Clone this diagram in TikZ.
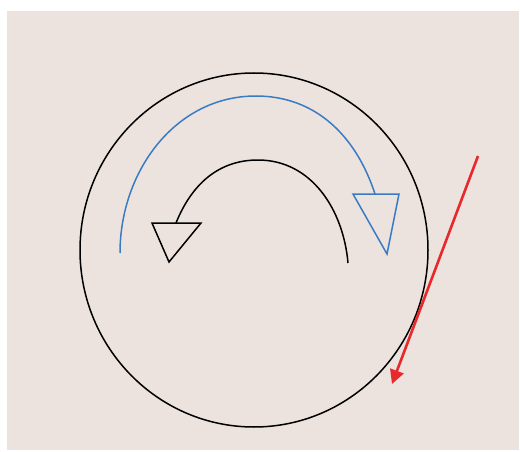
\documentclass[tikz,border=0pt]{standalone}
\usetikzlibrary{arrows.meta,shapes.geometric}
\definecolor{bg}{HTML}{ECE3DF}
\definecolor{arcblue}{HTML}{3A7CC4}
\definecolor{arrred}{HTML}{E8282A}
\begin{document}
\begin{tikzpicture}[x=1pt,y=1pt,
  thinline/.style={line width=1.5pt, line join=miter},
  headtri/.style={line width=1.5pt, line join=miter}]
\useasboundingbox (0,0) rectangle (520,451);
\fill[white] (0,0) rectangle (520,451);
\fill[bg] (7,1) rectangle (519,440);
% circle
\node[draw, thinline, ellipse, minimum width=348pt, minimum height=354pt, inner sep=0pt] (circ) at (254,201) {};
% blue arc
\coordinate (b0) at (120,198);
\coordinate (b1) at (256,355);
\coordinate (b2) at (375,257);
\draw[thinline, arcblue] (b0) to[out=90,in=180] (b1) to[out=0,in=108] (b2);
\draw[headtri, arcblue] (353,257) -- (399,257) -- (387,197) -- cycle;
% black arc
\coordinate (k0) at (348,188);
\coordinate (k1) at (258,291);
\coordinate (k2) at (176,228);
\draw[thinline] (k0) to[out=95,in=0] (k1) to[out=180,in=68] (k2);
\draw[headtri] (152,228) -- (201,228) -- (169,189) -- cycle;
% red arrow
\coordinate (r0) at (478,295);
\coordinate (r1) at (392,67);
\draw[arrred, line width=2.6pt, -{Triangle[length=14pt,width=14pt]}] (r0) -- (r1);
\end{tikzpicture}
\end{document}
